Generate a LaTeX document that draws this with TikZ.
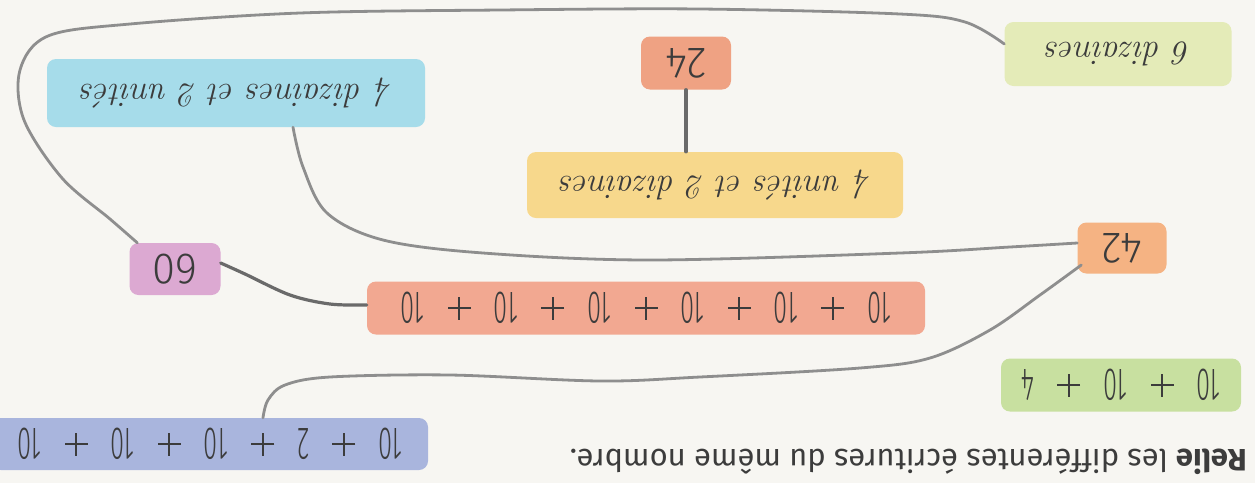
\documentclass[tikz,border=0pt]{standalone}
\usepackage{fontspec}
\usepackage{graphicx}
\IfFontExistsTF{Fira Sans Light}
  {\newfontfamily\numfont{Fira Sans Light}[FakeStretch=0.55]\newfontfamily\bignumfont{Fira Sans Light}[FakeStretch=0.95]}
  {\IfFontExistsTF{Open Sans Light}
    {\newfontfamily\numfont{Open Sans Light}[FakeStretch=0.55]\newfontfamily\bignumfont{Open Sans Light}[FakeStretch=0.95]}
    {\newfontfamily\numfont{Fira Sans}[FakeStretch=0.55]\newfontfamily\bignumfont{Fira Sans}[FakeStretch=0.95]}}
\newfontfamily\titlefont{Fira Sans}
\newcommand\plussign{\rlap{\rule[14.5pt]{23pt}{2pt}}\hspace{10.5pt}\rule[4.5pt]{2pt}{23pt}\hspace{10.5pt}}
\newcommand\PL{\hspace{23pt}\plussign\hspace{23pt}}
\definecolor{bgcol}{HTML}{F7F6F2}
\definecolor{cSix}{HTML}{E4EBB8}
\definecolor{cTwentyFour}{HTML}{EFA283}
\definecolor{cBlue}{HTML}{A6DCEA}
\definecolor{cYellow}{HTML}{F7D88C}
\definecolor{cFortyTwo}{HTML}{F5B383}
\definecolor{cSixty}{HTML}{DCA9D2}
\definecolor{cSalmon}{HTML}{F2A891}
\definecolor{cGreen}{HTML}{C8E0A0}
\definecolor{cLav}{HTML}{A9B5DD}
\definecolor{linecol}{HTML}{8E8E8E}
\definecolor{linedark}{HTML}{6A6A6A}
\definecolor{textcol}{HTML}{3C3C3C}
\begin{document}
\begin{tikzpicture}[x=1pt,y=-1pt,
  box/.style={rounded corners=9pt, inner sep=0pt, anchor=center, text=textcol},
  num/.style={box, font=\numfont\fontsize{46}{46}\selectfont},
  bignum/.style={box, font=\bignumfont\fontsize{44}{44}\selectfont},
  cur/.style={box, font=\itshape\fontsize{34}{34}\selectfont},
  link/.style={draw=linecol, line width=2.8pt, line cap=round, line join=round},
  linkdark/.style={link, draw=linedark, line width=3.2pt}]
\fill[bgcol] (0,0) rectangle (1255,483);
\useasboundingbox (0,0) rectangle (1255,483);

% nodes
\node[cur, fill=cSix, minimum width=227pt, minimum height=64pt] (six) at (1118,54) {\rotatebox[origin=c]{180}{6 dizaines}};
\node[bignum, fill=cTwentyFour, minimum width=90pt, minimum height=53pt] (twentyfour) at (686,63) {\rotatebox[origin=c]{180}{24}};
\node[cur, fill=cBlue, minimum width=378pt, minimum height=68pt] (blue) at (236,93) {\rotatebox[origin=c]{180}{4 dizaines et 2 unités}};
\node[cur, fill=cYellow, minimum width=376pt, minimum height=66pt] (yellow) at (715,185) {\rotatebox[origin=c]{180}{4 unités et 2 dizaines}};
\node[bignum, fill=cFortyTwo, minimum width=89pt, minimum height=51pt] (fortytwo) at (1122,248) {\rotatebox[origin=c]{180}{42}};
\node[bignum, fill=cSixty, minimum width=91pt, minimum height=52pt] (sixty) at (175,269) {\rotatebox[origin=c]{180}{60}};
\node[num, fill=cSalmon, minimum width=558pt, minimum height=53pt] (salmon) at (646,308) {\rotatebox[origin=c]{180}{10\PL10\PL10\PL10\PL10\PL10}};
\node[num, fill=cGreen, minimum width=240pt, minimum height=53pt] (green) at (1121,385) {\rotatebox[origin=c]{180}{10\PL10\PL4}};
\node[num, fill=cLav, minimum width=436pt, minimum height=52pt] (lav) at (210,444) {\rotatebox[origin=c]{180}{10\PL2\PL10\PL10\PL10}};
\node[anchor=east, inner sep=0pt, text=textcol, font=\titlefont\fontsize{31}{31}\selectfont] (title) at (1247,462) {\rotatebox[origin=c]{180}{\textbf{Relie} les différentes écritures du même nombre.}};

% connector end points
\coordinate (aS) at ([yshift=10pt]six.west);
\coordinate (aE) at ([xshift=8pt]sixty.north west);
\coordinate (bS) at ([xshift=57pt]blue.south);
\coordinate (bE) at ([yshift=5pt]fortytwo.west);
\coordinate (dS) at ([yshift=6pt]sixty.east);
\coordinate (dE) at ([yshift=3pt]salmon.west);
\coordinate (eS) at ([xshift=4pt,yshift=-17pt]fortytwo.west);
\coordinate (eE) at ([xshift=53pt]lav.north);

% connectors
\draw[link] plot[smooth, tension=0.55] coordinates {(aS) (965,22) (900,14) (700,9) (500,10) (300,13) (130,24) (48,36) (20,70) (24,120) (62,178) (110,219) (aE)};
\draw[link] plot[smooth, tension=0.55] coordinates {(bS) (303,167) (327,213) (383,240) (483,253) (650,260) (900,253) (1010,247) (bE)};
\draw[linkdark] (twentyfour.south) -- (twentyfour.south |- yellow.north);
\draw[linkdark] plot[smooth, tension=0.55] coordinates {(dS) (245,274) (290,295) (330,304) (dE)};
\draw[link] plot[smooth, tension=0.55] coordinates {(eS) (1040,295) (990,330) (930,358) (860,368) (700,377) (600,381) (450,375) (330,377) (285,385) (268,400) (eE)};
\end{tikzpicture}
\end{document}
